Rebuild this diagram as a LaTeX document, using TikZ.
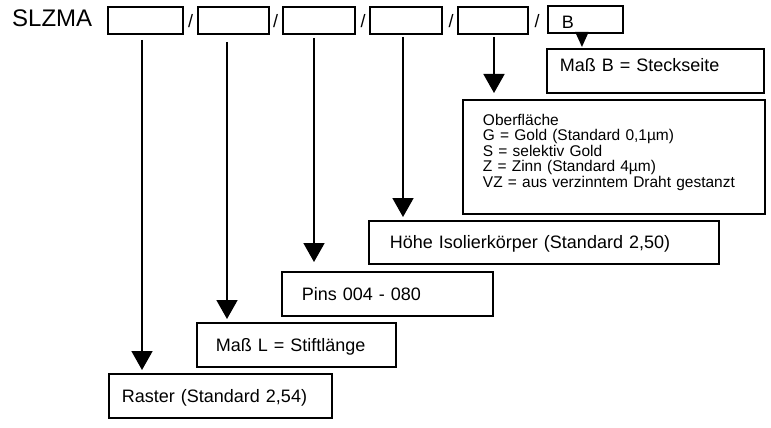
\documentclass[tikz,border=0pt]{standalone}
\usepackage{fontspec}
\setmainfont{Liberation Sans}
\usetikzlibrary{arrows.meta}
\begin{document}
\begin{tikzpicture}[x=1pt,y=-1pt,
  fbox/.style={draw, line width=1.9pt, anchor=north west, inner ysep=0pt, align=left},
  big/.style={font=\fontsize{18}{21}\selectfont, text height=13pt, text depth=0pt},
  small/.style={font=\fontsize{15.5}{15.5}\selectfont, text height=11pt, text depth=74pt},
  lbl/.style={inner sep=0pt, anchor=base},
  arr/.style={line width=1.8pt, -{Triangle[length=19pt,width=21pt]}},
  arrs/.style={line width=1.8pt, -{Triangle[length=15pt,width=13pt]}}]
\fill[white] (0,0) rectangle (771,428);
\useasboundingbox (0,0) rectangle (771,428);
% header
\node[lbl, anchor=base west, font=\fontsize{24}{28}\selectfont] (title) at (12,27) {SLZMA};
\node[fbox, minimum width=75pt, minimum height=27pt] (b1) at (107,6) {};
\node[fbox, minimum width=71pt, minimum height=27pt] (b2) at (197,6) {};
\node[fbox, minimum width=72pt, minimum height=27pt] (b3) at (282,6) {};
\node[fbox, minimum width=72pt, minimum height=27pt] (b4) at (369,6) {};
\node[fbox, minimum width=70pt, minimum height=27pt] (b5) at (457,6) {};
\node[fbox, big, minimum height=27pt, inner xsep=14pt, text width=47pt] (bB) at (547,5) {\raisebox{-2.5pt}{B}};
\foreach \x/\n in {190.5/s1,275.5/s2,363/s3,451/s4,537/s5}
  \node[lbl, font=\fontsize{18}{21}\selectfont] (\n) at (\x,27.5) {/};
% description boxes
\node[fbox, big, minimum height=44pt, inner xsep=13pt, text width=191pt] (mb) at (546,48) {\raisebox{6pt}{Maß B = Steckseite}};
\node[fbox, small, minimum height=114pt, inner xsep=20pt, text width=262pt] (ob) at (462,99)
  {Oberfläche\\G = Gold (Standard 0,1µm)\\S = selektiv Gold\\Z = Zinn (Standard 4µm)\\VZ = aus verzinntem Draht gestanzt};
\node[fbox, big, minimum height=43pt, inner xsep=21pt, text width=308pt] (hi) at (368,220) {Höhe Isolierkörper (Standard 2,50)};
\node[fbox, big, minimum height=44pt, inner xsep=20pt, text width=171pt] (pins) at (281,271) {Pins 004 - 080};
\node[fbox, big, minimum height=44pt, inner xsep=19pt, text width=161pt] (ml) at (196,322) {Maß L = Stiftlänge};
\node[fbox, big, minimum height=44pt, inner xsep=13pt, text width=197pt] (ra) at (108,373) {Raster (Standard 2,54)};
% arrows
\coordinate (a1) at (142,40);
\coordinate (a2) at (227,42);
\coordinate (a3) at (314,38);
\coordinate (a4) at (403,37);
\coordinate (a5) at (494,37);
\draw[arr, shorten >=3pt] (a1) -- (a1 |- ra.north);
\draw[arr, shorten >=3pt] (a2) -- (a2 |- ml.north);
\draw[arr, shorten >=9pt] (a3) -- (a3 |- pins.north);
\draw[arr, shorten >=3pt] (a4) -- (a4 |- hi.north);
\draw[arr, shorten >=6pt] (a5) -- (a5 |- ob.north);
\draw[arrs, shorten >=1pt] ([xshift=-3.5pt]bB.south) -- ([xshift=-3.5pt]bB.south |- mb.north);
\end{tikzpicture}
\end{document}
